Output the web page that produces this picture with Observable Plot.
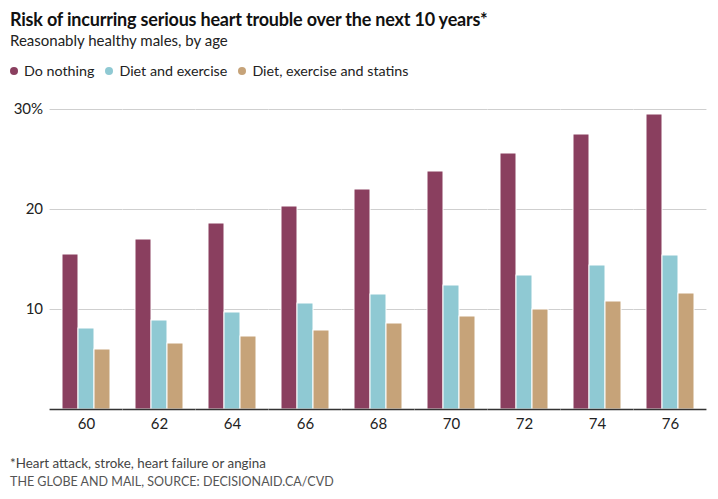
<!DOCTYPE html>
<html>
<head>
<meta charset="utf-8">
<script src="https://cdn.jsdelivr.net/npm/d3@7"></script>
<script src="https://cdn.jsdelivr.net/npm/@observablehq/plot@0.6"></script>
<style>
  html, body { margin: 0; padding: 0; background: #fff; }
  body { width: 718px; font-family: Lato, "Noto Sans", sans-serif; color: #222; }
  .title { position: absolute; left: 10px; top: 8px; font-size: 18px; font-weight: 700; color: #111; letter-spacing: -0.2px; }
  .subtitle { position: absolute; left: 10px; top: 31px; font-size: 15px; color: #222; }
  .legend { position: absolute; left: 10px; top: 62px; font-size: 14.3px; color: #222; display: flex; gap: 11px; }
  .legend span.sw { display: inline-block; width: 8px; height: 8px; border-radius: 50%; margin-right: 6px; vertical-align: 1px; }
  #chart { position: absolute; left: 0; top: 95px; }
  .note { position: absolute; left: 10px; top: 455px; font-size: 13.4px; color: #444; }
  .source { position: absolute; left: 10px; top: 474px; font-size: 12.5px; color: #555; letter-spacing: 0px; }
</style>
</head>
<body>
<div class="title">Risk of incurring serious heart trouble over the next 10 years*</div>
<div class="subtitle">Reasonably healthy males, by age</div>
<div class="legend" id="legend"></div>
<div id="chart"></div>
<div class="note">*Heart attack, stroke, heart failure or angina</div>
<div class="source">THE GLOBE AND MAIL, SOURCE: DECISIONAID.CA/CVD</div>
<script>
const ages = [60, 62, 64, 66, 68, 70, 72, 74, 76];
const seriesNames = ["Do nothing", "Diet and exercise", "Diet, exercise and statins"];
const seriesColors = ["#8a3f5f", "#8fc9d3", "#c6a379"];
const doNothing = [15.5, 17.0, 18.6, 20.3, 22.0, 23.8, 25.6, 27.5, 29.5];
const dietExercise = [8.1, 8.9, 9.7, 10.6, 11.5, 12.4, 13.4, 14.4, 15.4];
const dietExerciseStatins = [6.0, 6.6, 7.3, 7.9, 8.6, 9.3, 10.0, 10.8, 11.6];
const yTicks = [10, 20, 30];

const seriesValues = [doNothing, dietExercise, dietExerciseStatins];
const data = [];
ages.forEach((age, i) => {
  seriesNames.forEach((s, j) => data.push({age, series: s, value: seriesValues[j][i]}));
});

const legend = document.getElementById("legend");
seriesNames.forEach((s, j) => {
  const item = document.createElement("div");
  item.innerHTML = `<span class="sw" style="background:${seriesColors[j]}"></span>${s}`;
  legend.appendChild(item);
});

const W = 718, ML = 46, MR = 8;
const padInner = 0.31, padOuter = padInner / 2;
// half the gap between facets, so per-facet rules join into continuous lines
const step = (W - ML - MR) / (ages.length - padInner + 2 * padOuter);
const ext = -(padInner * step) / 2;

const chart = Plot.plot({
  width: W,
  height: 350,
  marginLeft: ML,
  marginRight: MR,
  marginTop: 14,
  marginBottom: 36,
  style: {fontFamily: "Lato, 'Noto Sans', sans-serif", fontSize: "15px", color: "#222", background: "#fff"},
  fx: {domain: ages, paddingInner: padInner, paddingOuter: padOuter, label: null},
  x: {domain: seriesNames, padding: 0, axis: null},
  y: {domain: [0, 30], label: null},
  color: {domain: seriesNames, range: seriesColors},
  marks: [
    Plot.ruleY(yTicks, {stroke: "#cfcfcf", strokeWidth: 1.2, insetLeft: ext, insetRight: ext}),
    Plot.barY(data, {fx: "age", x: "series", y: "value", fill: "series", stroke: "white", strokeWidth: 1}),
    Plot.ruleY([0], {stroke: "#333", strokeWidth: 1.5, insetLeft: ext, insetRight: ext}),
    Plot.axisY(yTicks, {tickSize: 0, tickPadding: 7, dx: ext, tickFormat: d => d === 30 ? "30%" : String(d), label: null}),
    Plot.axisFx({anchor: "bottom", tickSize: 0, tickPadding: 9, label: null})
  ]
});
document.getElementById("chart").appendChild(chart);
</script>
</body>
</html>
